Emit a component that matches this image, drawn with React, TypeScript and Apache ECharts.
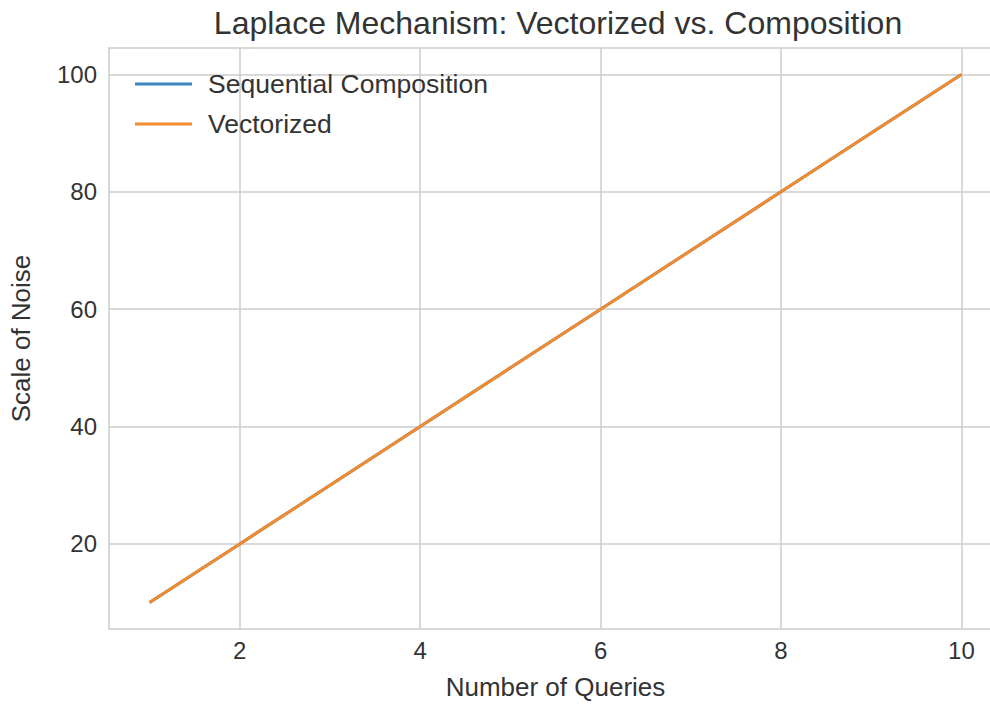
import React, { useEffect, useRef } from "react";
import * as echarts from "echarts";

const queries = [1, 2, 3, 4, 5, 6, 7, 8, 9, 10];
const sequential = [10, 20, 30, 40, 50, 60, 70, 80, 90, 100];
const vectorized = [10, 20, 30, 40, 50, 60, 70, 80, 90, 100];
const xTicks = [2, 4, 6, 8, 10];
const yTicks = [20, 40, 60, 80, 100];

const FONT = "'Liberation Sans Narrow', 'Arial Narrow', 'Liberation Sans', Arial, sans-serif";
const TXT = "#333333";
const GRID = "#cccccc";

export default function App() {
  const ref = useRef<HTMLDivElement>(null);
  useEffect(() => {
    if (!ref.current) return;
    const chart = echarts.init(ref.current, null, { renderer: "svg" });
    chart.setOption({
      animation: false,
      backgroundColor: "#ffffff",
      title: {
        text: "Laplace Mechanism: Vectorized vs. Composition",
        left: 553,
        textAlign: "center",
        top: 2,
        textStyle: { fontFamily: FONT, fontSize: 32, fontWeight: "normal", color: TXT },
      },
      legend: {
        orient: "vertical",
        left: 130,
        top: 64,
        icon: "rect",
        itemWidth: 57,
        itemHeight: 3,
        itemGap: 10,
        textStyle: { fontFamily: FONT, fontSize: 26.5, color: TXT, lineHeight: 30, padding: [0, 0, 0, 11] },
        data: ["Sequential Composition", "Vectorized"],
      },
      grid: {
        left: 109,
        top: 48,
        width: 893,
        height: 581,
        containLabel: false,
        outerBoundsMode: "none",
      },
      xAxis: [
        {
          type: "value",
          min: 0.55,
          max: 10.45,
          name: "Number of Queries",
          nameLocation: "middle",
          nameGap: 45,
          nameTextStyle: { fontFamily: FONT, fontSize: 26, color: TXT },
          axisLine: { show: true, lineStyle: { color: GRID, width: 1.5 } },
          axisTick: { show: false, customValues: xTicks },
          axisLabel: { customValues: xTicks, fontFamily: FONT, fontSize: 24, color: TXT, margin: 9 },
          splitLine: { show: true, lineStyle: { color: GRID, width: 1.5 } },
        },
        {
          type: "value",
          position: "top",
          min: 0.55,
          max: 10.45,
          axisLine: { show: true, lineStyle: { color: GRID, width: 1.5 } },
          axisTick: { show: false },
          axisLabel: { show: false },
          splitLine: { show: false },
        },
      ],
      yAxis: {
        type: "value",
        min: 5.5,
        max: 104.5,
        name: "Scale of Noise",
        nameLocation: "middle",
        nameGap: 75,
        nameTextStyle: { fontFamily: FONT, fontSize: 26, color: TXT },
        axisLine: { show: true, lineStyle: { color: GRID, width: 1.5 } },
        axisTick: { show: false, customValues: yTicks },
        axisLabel: { customValues: yTicks, fontFamily: FONT, fontSize: 24, color: TXT, margin: 12 },
        splitLine: { show: true, lineStyle: { color: GRID, width: 1.5 } },
      },
      series: [
        {
          name: "Sequential Composition",
          type: "line",
          xAxisIndex: 0,
          data: queries.map((q, i) => [q, sequential[i]]),
          showSymbol: false,
          symbol: "none",
          color: "#3a86c3",
          lineStyle: { width: 3, color: "#3a86c3" },
        },
        {
          name: "Vectorized",
          type: "line",
          xAxisIndex: 0,
          data: queries.map((q, i) => [q, vectorized[i]]),
          showSymbol: false,
          symbol: "none",
          color: "#f28a2e",
          lineStyle: { width: 3, color: "#f28a2e" },
        },
      ],
    });
    return () => chart.dispose();
  }, []);
  return (
    <div
      ref={ref}
      style={{ position: "absolute", left: 0, top: 0, width: 990, height: 704, overflow: "hidden" }}
    />
  );
}
